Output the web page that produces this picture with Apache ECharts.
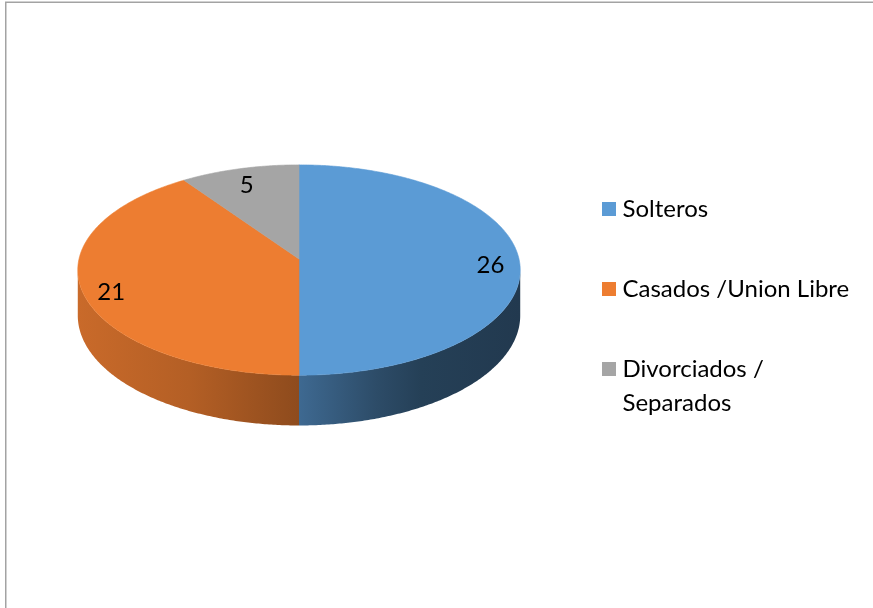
<!DOCTYPE html>
<html>
<head>
<meta charset="utf-8">
<script src="https://cdn.jsdelivr.net/npm/echarts@6/dist/echarts.min.js"></script>
<style>
  html, body { margin: 0; padding: 0; background: #ffffff; }
  #chart { width: 873px; height: 608px; }
</style>
</head>
<body>
<div id="chart"></div>
<script>
// Estado civil
const categories = ['Solteros', 'Casados /Union Libre', 'Divorciados /\nSeparados'];
const values = [26, 21, 5];
const colors = ['#5b9bd5', '#ed7d31', '#a5a5a5'];

// Geometry of the tilted disc (screen pixels) and a light perspective factor
const disc = { cx: 299, cy: 259, rx: 220, ry: 104, persp: 0.105, depth: 45 };
// Shading of the outer wall of each slice, left -> right (fraction, brightness)
const wallShade = [
  [[0, 0.68], [0.35, 0.49], [0.55, 0.41], [1, 0.37]],
  [[0, 0.85], [0.5, 0.76], [1, 0.6]],
  [[0, 0.8], [1, 0.6]]
];
const FONT = 'Lato';
const FONT_SIZE = 24;

const total = values.reduce((a, b) => a + b, 0);

function project(t, r, drop) {
  const X = r * Math.sin(t);
  const Z = r * Math.cos(t);
  const s = 1 / (1 + disc.persp * Z);
  return [disc.cx + disc.rx * X * s, disc.cy - disc.ry * Z * s + drop * s];
}

function shade(hex, k) {
  const n = parseInt(hex.slice(1), 16);
  const r = Math.round(((n >> 16) & 255) * k);
  const g = Math.round(((n >> 8) & 255) * k);
  const b = Math.round((n & 255) * k);
  return 'rgb(' + r + ',' + g + ',' + b + ')';
}

function arc(a, b, drop) {
  const pts = [];
  const n = Math.max(2, Math.ceil((b - a) / (Math.PI / 360)));
  for (let k = 0; k <= n; k++) pts.push(project(a + (b - a) * k / n, 1, drop));
  return pts;
}

function makeRender(idx) {
  return function (params, api) {
    const v = api.value(0);
    let before = 0;
    for (let k = 0; k < idx; k++) before += values[k];
    const a = before / total * Math.PI * 2;
    const b = (before + v) / total * Math.PI * 2;
    const base = colors[idx];
    const children = [];

    // outer wall: only the front part of the rim is visible
    const s1 = Math.acos(-disc.persp);
    const s2 = Math.PI * 2 - s1;
    const lo = Math.max(a, s1), hi = Math.min(b, s2);
    if (hi > lo) {
      const top = arc(lo, hi, 0);
      const bottom = arc(lo, hi, disc.depth).reverse();
      children.push({
        type: 'polygon',
        z2: 0,
        shape: { points: top.concat(bottom) },
        style: {
          fill: new echarts.graphic.LinearGradient(0, 0, 1, 0,
            wallShade[idx].map(s => ({ offset: s[0], color: shade(base, s[1]) }))),
          stroke: null
        }
      });
    }

    // top face
    const c = project(0, 0, 0);
    children.push({
      type: 'polygon',
      z2: 1,
      shape: { points: [c].concat(arc(a, b, 0)) },
      style: { fill: base, stroke: base, lineWidth: 0.6 }
    });

    // value label
    const m = (a + b) / 2;
    const p = project(m, 0.87, 0);
    children.push({
      type: 'text',
      z2: 5,
      x: p[0], y: p[1] + 6,
      style: {
        text: String(v), fill: '#000000', font: FONT_SIZE + 'px ' + FONT,
        align: 'center', verticalAlign: 'middle'
      }
    });
    return { type: 'group', children: children };
  };
}

const chart = echarts.init(document.getElementById('chart'), null, { renderer: 'canvas' });

const legendText = { fontFamily: FONT, fontSize: FONT_SIZE, color: '#000000', lineHeight: 34 };
const squareIcon = 'path://M0,0H14V14H0Z';

chart.setOption({
  backgroundColor: '#ffffff',
  animation: false,
  graphic: [{
    type: 'rect', silent: true,
    shape: { x: 5.75, y: 2.25, width: 1000, height: 1000 },
    style: { fill: null, stroke: '#a3a3a3', lineWidth: 1.5 }
  }],
  legend: [{
    orient: 'vertical', left: 602, top: 192, padding: 0,
    icon: squareIcon, itemWidth: 17, itemHeight: 14, itemGap: 46,
    symbolKeepAspect: true,
    selectedMode: false,
    textStyle: legendText,
    data: [categories[0], categories[1]]
  }, {
    // the wrapped entry keeps its square beside the first line
    orient: 'vertical', left: 602, top: 318, padding: 0,
    icon: squareIcon, itemWidth: 17, itemHeight: 14,
    symbolKeepAspect: true,
    selectedMode: false,
    textStyle: legendText,
    formatter: name => ' \n' + name,
    data: [categories[2]]
  }],
  series: categories.map((name, i) => ({
    type: 'custom',
    name: name,
    coordinateSystem: 'none',
    itemStyle: { color: colors[i] },
    data: [[values[i]]],
    renderItem: makeRender(i)
  }))
});
</script>
</body>
</html>
